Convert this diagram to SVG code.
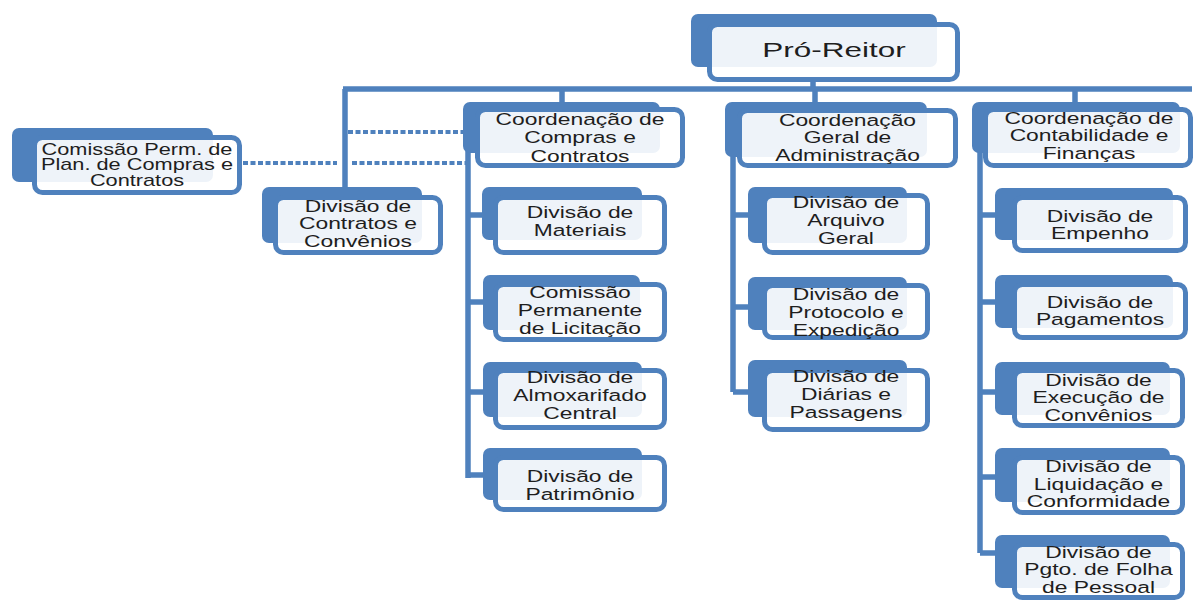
<svg xmlns="http://www.w3.org/2000/svg" width="1195" height="601" viewBox="0 0 1195 601">
<style>
.bk{fill:#4f81bd}
.fr{fill:#fff;fill-opacity:.9;stroke:#4f81bd;stroke-width:5}
.ln{stroke:#4f81bd;stroke-width:5.5;fill:none}
.dt{stroke:#4f81bd;stroke-width:4;stroke-dasharray:5 2.5;fill:none}
.t{font-family:"Liberation Sans",Arial,sans-serif;font-size:17px;fill:#1e1e1e;text-anchor:middle}
</style>
<rect width="1195" height="601" fill="#fff"/>
<g id="connectors">
<path class="ln" d="M813 80V89M343 89H1192M562 89V104M815 89V104M1075 89V104M345 89V189"/>
<path class="ln" d="M468 151V478M468 215H485M468 302H485M468 392H485M468 475H485"/>
<path class="ln" d="M733 155V392M733 215H750M733 307H750M733 392H750"/>
<path class="ln" d="M980 151V553M980 215H997M980 302H997M980 392H997M980 477H997M980 553H997"/>
<path class="dt" d="M348 132H463M243 163H337M352 163H466"/>
</g>
<g id="n-pro-reitor">
<rect class="bk" x="691" y="14" width="246" height="53" rx="7"/>
<rect class="fr" x="709.5" y="24.5" width="248" height="55" rx="8"/>
<text class="t" style="font-size:21px" transform="translate(834 0) scale(1.5 1)"><tspan x="0" y="57.5">Pró-Reitor</tspan></text>
</g>
<g id="n-comissao-plan">
<rect class="bk" x="12" y="128" width="201" height="54" rx="7"/>
<rect class="fr" x="34.5" y="137.5" width="205" height="55" rx="8"/>
<text class="t" style="font-size:16px" transform="translate(137 0) scale(1.36 1)"><tspan x="0" y="155">Comissão Perm. de</tspan><tspan x="0" y="170.5">Plan. de Compras e</tspan><tspan x="0" y="186">Contratos</tspan></text>
</g>
<g id="n-div-contratos">
<rect class="bk" x="262" y="187" width="160" height="56" rx="7"/>
<rect class="fr" x="275.5" y="197.5" width="165" height="55" rx="8"/>
<text class="t" transform="translate(358 0) scale(1.345 1)"><tspan x="0" y="212">Divisão de</tspan><tspan x="0" y="229.5">Contratos e</tspan><tspan x="0" y="247">Convênios</tspan></text>
</g>
<g id="n-coord-compras">
<rect class="bk" x="463" y="102" width="197" height="51" rx="7"/>
<rect class="fr" x="477.5" y="109.5" width="205" height="56" rx="8"/>
<text class="t" transform="translate(580 0) scale(1.345 1)"><tspan x="0" y="125">Coordenação de</tspan><tspan x="0" y="143.5">Compras e</tspan><tspan x="0" y="162">Contratos</tspan></text>
</g>
<g id="n-materiais">
<rect class="bk" x="482" y="187" width="160" height="53" rx="7"/>
<rect class="fr" x="495.5" y="197.5" width="169" height="55" rx="8"/>
<text class="t" transform="translate(580 0) scale(1.345 1)"><tspan x="0" y="218">Divisão de</tspan><tspan x="0" y="236">Materiais</tspan></text>
</g>
<g id="n-licitacao">
<rect class="bk" x="483" y="275" width="157" height="55" rx="7"/>
<rect class="fr" x="495.5" y="284.5" width="169" height="55" rx="8"/>
<text class="t" transform="translate(580 0) scale(1.345 1)"><tspan x="0" y="298">Comissão</tspan><tspan x="0" y="316">Permanente</tspan><tspan x="0" y="334">de Licitação</tspan></text>
</g>
<g id="n-almox">
<rect class="bk" x="483" y="362" width="159" height="55" rx="7"/>
<rect class="fr" x="495.5" y="370.5" width="169" height="57" rx="8"/>
<text class="t" transform="translate(580 0) scale(1.345 1)"><tspan x="0" y="383">Divisão de</tspan><tspan x="0" y="401">Almoxarifado</tspan><tspan x="0" y="419">Central</tspan></text>
</g>
<g id="n-patrimonio">
<rect class="bk" x="483" y="448" width="159" height="52" rx="7"/>
<rect class="fr" x="495.5" y="457.5" width="169" height="52" rx="8"/>
<text class="t" transform="translate(580 0) scale(1.345 1)"><tspan x="0" y="482">Divisão de</tspan><tspan x="0" y="500">Patrimônio</tspan></text>
</g>
<g id="n-coord-admin">
<rect class="bk" x="725" y="102" width="202" height="55" rx="7"/>
<rect class="fr" x="739.5" y="110.5" width="216" height="55" rx="8"/>
<text class="t" transform="translate(847.5 0) scale(1.345 1)"><tspan x="0" y="126">Coordenação</tspan><tspan x="0" y="143.5">Geral de</tspan><tspan x="0" y="161">Administração</tspan></text>
</g>
<g id="n-arquivo">
<rect class="bk" x="748" y="187" width="159" height="56" rx="7"/>
<rect class="fr" x="764.5" y="195.5" width="163" height="57" rx="8"/>
<text class="t" transform="translate(846 0) scale(1.345 1)"><tspan x="0" y="208">Divisão de</tspan><tspan x="0" y="226">Arquivo</tspan><tspan x="0" y="244">Geral</tspan></text>
</g>
<g id="n-protocolo">
<rect class="bk" x="748" y="277" width="159" height="53" rx="7"/>
<rect class="fr" x="764.5" y="285.5" width="163" height="52" rx="8"/>
<text class="t" transform="translate(846 0) scale(1.345 1)"><tspan x="0" y="300">Divisão de</tspan><tspan x="0" y="318">Protocolo e</tspan><tspan x="0" y="336">Expedição</tspan></text>
</g>
<g id="n-diarias">
<rect class="bk" x="748" y="360" width="159" height="57" rx="7"/>
<rect class="fr" x="764.5" y="370.5" width="163" height="59" rx="8"/>
<text class="t" transform="translate(846 0) scale(1.345 1)"><tspan x="0" y="382">Divisão de</tspan><tspan x="0" y="400">Diárias e</tspan><tspan x="0" y="418">Passagens</tspan></text>
</g>
<g id="n-coord-contab">
<rect class="bk" x="972" y="102" width="208" height="51" rx="7"/>
<rect class="fr" x="985.5" y="109.5" width="205" height="56" rx="8"/>
<text class="t" transform="translate(1089 0) scale(1.345 1)"><tspan x="0" y="124">Coordenação de</tspan><tspan x="0" y="141.5">Contabilidade e</tspan><tspan x="0" y="159">Finanças</tspan></text>
</g>
<g id="n-empenho">
<rect class="bk" x="995" y="188" width="178" height="52" rx="7"/>
<rect class="fr" x="1014.5" y="197.5" width="171" height="53" rx="8"/>
<text class="t" transform="translate(1100 0) scale(1.345 1)"><tspan x="0" y="222">Divisão de</tspan><tspan x="0" y="239">Empenho</tspan></text>
</g>
<g id="n-pagamentos">
<rect class="bk" x="995" y="275" width="178" height="53" rx="7"/>
<rect class="fr" x="1014.5" y="284.5" width="171" height="53" rx="8"/>
<text class="t" transform="translate(1100 0) scale(1.345 1)"><tspan x="0" y="308">Divisão de</tspan><tspan x="0" y="325">Pagamentos</tspan></text>
</g>
<g id="n-execucao">
<rect class="bk" x="995" y="362" width="175" height="53" rx="7"/>
<rect class="fr" x="1014.5" y="370.5" width="168" height="55" rx="8"/>
<text class="t" transform="translate(1098.5 0) scale(1.345 1)"><tspan x="0" y="386">Divisão de</tspan><tspan x="0" y="403.5">Execução de</tspan><tspan x="0" y="421">Convênios</tspan></text>
</g>
<g id="n-liquidacao">
<rect class="bk" x="995" y="448" width="175" height="54" rx="7"/>
<rect class="fr" x="1014.5" y="457.5" width="168" height="55" rx="8"/>
<text class="t" transform="translate(1098.5 0) scale(1.345 1)"><tspan x="0" y="472">Divisão de</tspan><tspan x="0" y="490">Liquidação e</tspan><tspan x="0" y="507">Conformidade</tspan></text>
</g>
<g id="n-pgto-folha">
<rect class="bk" x="995" y="535" width="175" height="53" rx="7"/>
<rect class="fr" x="1014.5" y="544.5" width="168" height="53" rx="8"/>
<text class="t" transform="translate(1098.5 0) scale(1.345 1)"><tspan x="0" y="558">Divisão de</tspan><tspan x="0" y="575.5">Pgto. de Folha</tspan><tspan x="0" y="593">de Pessoal</tspan></text>
</g>
</svg>
